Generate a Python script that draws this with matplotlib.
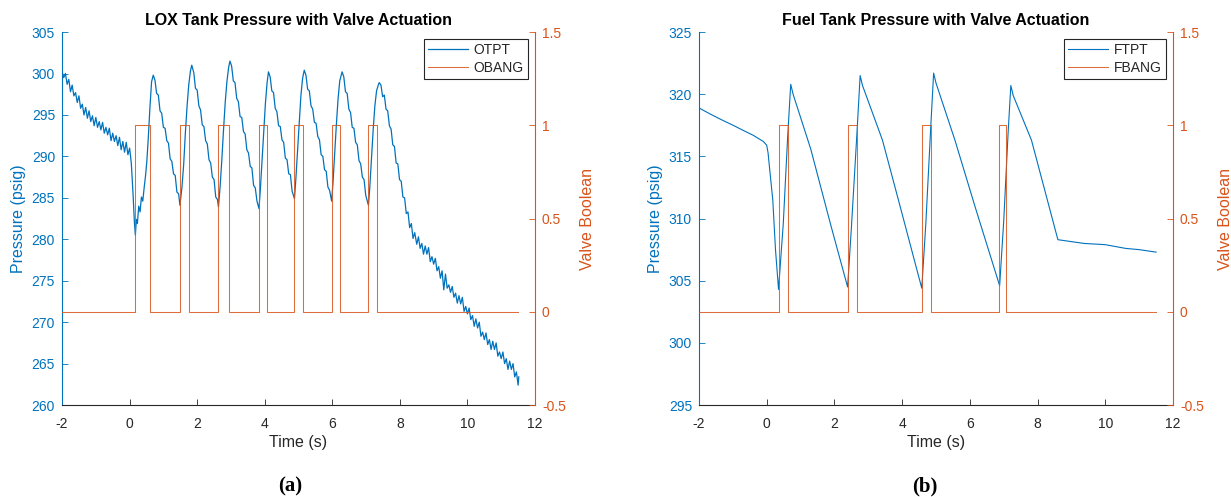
import matplotlib
matplotlib.use("Agg")
import matplotlib.pyplot as plt

plt.rcParams['font.family'] = ['Liberation Sans', 'DejaVu Sans']
plt.rcParams['axes.unicode_minus'] = False

BLUE = '#0072BD'
ORANGE = '#D95319'
DARK = '#262626'

# ---- LOX tank (panel a) ----
lox_time = [
    -2.00, -1.95, -1.90, -1.85, -1.80, -1.75, -1.70, -1.65, -1.60, -1.55,
    -1.50, -1.45, -1.40, -1.35, -1.30, -1.25, -1.20, -1.15, -1.10, -1.05,
    -1.00, -0.95, -0.90, -0.85, -0.80, -0.75, -0.70, -0.65, -0.60, -0.55,
    -0.50, -0.45, -0.40, -0.35, -0.30, -0.25, -0.20, -0.15, -0.10, -0.05, 0.00,
    0.05, 0.10, 0.14, 0.17, 0.20, 0.23, 0.27, 0.31, 0.35, 0.39, 0.43, 0.47,
    0.51, 0.55, 0.60, 0.65, 0.70,
    0.75, 0.80, 0.85, 0.90, 0.95, 1.00, 1.05, 1.10, 1.15, 1.20, 1.25, 1.30,
    1.35, 1.40, 1.45, 1.49,
    1.55, 1.60, 1.65, 1.70, 1.75, 1.80, 1.84,
    1.90, 1.95, 2.00, 2.05, 2.10, 2.15, 2.20, 2.25, 2.30, 2.35, 2.40, 2.45,
    2.50, 2.55, 2.60, 2.63,
    2.68, 2.73, 2.78, 2.83, 2.88, 2.93, 2.97,
    3.02, 3.07, 3.12, 3.17, 3.22, 3.27, 3.32, 3.37, 3.42, 3.47, 3.52, 3.57,
    3.62, 3.67, 3.72, 3.77, 3.83,
    3.87, 3.92, 3.97, 4.02, 4.07, 4.11,
    4.16, 4.21, 4.26, 4.31, 4.36, 4.41, 4.46, 4.51, 4.56, 4.61, 4.66, 4.71,
    4.76, 4.81, 4.88,
    4.92, 4.97, 5.02, 5.07, 5.12, 5.17,
    5.22, 5.27, 5.32, 5.37, 5.42, 5.47, 5.52, 5.57, 5.62, 5.67, 5.72, 5.77,
    5.82, 5.87, 5.92, 5.98,
    6.02, 6.07, 6.12, 6.17, 6.22, 6.29,
    6.34, 6.39, 6.44, 6.49, 6.54, 6.59, 6.64, 6.69, 6.74, 6.79, 6.84, 6.89,
    6.94, 6.99, 7.07,
    7.11, 7.16, 7.21, 7.26, 7.31, 7.36, 7.39,
    7.44, 7.49, 7.54, 7.59, 7.64, 7.69, 7.74, 7.79, 7.84, 7.89, 7.94, 7.99,
    8.04, 8.09, 8.14, 8.19, 8.24, 8.29, 8.34, 8.39, 8.44, 8.50,
    8.55, 8.60, 8.65, 8.70, 8.75, 8.80, 8.85, 8.90, 8.95, 9.00,
    9.05, 9.10, 9.15, 9.20, 9.25, 9.30, 9.35, 9.40, 9.45, 9.50,
    9.55, 9.60, 9.65, 9.70, 9.75, 9.80, 9.85, 9.90, 9.95, 10.00,
    10.05, 10.10, 10.15, 10.20, 10.25, 10.30, 10.35, 10.40, 10.45, 10.50,
    10.55, 10.60, 10.65, 10.70, 10.75, 10.80, 10.85, 10.90, 10.95, 11.00,
    11.05, 11.10, 11.15, 11.20, 11.25, 11.30, 11.35, 11.40, 11.45, 11.50, 11.52,
]
lox_psi = [
    300.2, 299.5, 300.0, 298.7, 299.3, 297.8, 298.6, 297.3, 297.7, 296.5,
    297.3, 295.8, 296.3, 295.0, 295.9, 294.6, 295.5, 294.2, 294.9, 293.7,
    294.7, 293.5, 294.2, 293.2, 294.1, 292.8, 293.5, 292.6, 293.4, 291.9,
    292.8, 291.8, 292.5, 291.3, 292.3, 290.8, 291.8, 290.5, 291.7, 290.2, 291.0,
    289.2, 285.6, 282.2, 280.5, 282.4, 281.9, 284.0, 283.3, 285.1, 284.6, 286.2, 287.6,
    289.4, 292.0, 295.8, 299.0, 299.8,
    299.2, 297.6, 297.4, 295.5, 295.2, 293.5, 293.4, 291.9, 291.6, 289.7, 289.4, 287.9,
    287.7, 285.7, 285.5, 284.1,
    286.3, 289.0, 292.8, 296.0, 298.6, 300.3, 301.0,
    300.1, 298.2, 298.0, 296.1, 295.6, 293.8, 293.6, 291.9, 291.5, 289.6, 289.2, 287.5,
    287.2, 285.1, 284.8, 283.9,
    286.4, 289.6, 293.2, 296.5, 299.0, 300.7, 301.5,
    300.9, 299.1, 298.9, 297.0, 296.6, 294.8, 294.7, 293.0, 292.7, 290.8, 290.4, 288.8,
    288.6, 286.5, 286.2, 284.6, 283.7,
    286.0, 289.5, 293.2, 296.4, 298.9, 300.2,
    299.6, 297.9, 297.7, 295.8, 295.4, 293.7, 293.6, 292.0, 291.7, 289.8, 289.6, 287.9,
    287.8, 285.8, 284.9,
    287.2, 290.6, 294.2, 297.3, 299.4, 300.4,
    299.8, 298.1, 297.9, 296.1, 295.7, 294.1, 294.0, 292.4, 292.0, 290.2, 290.0, 288.4,
    288.2, 286.3, 285.9, 284.6,
    286.8, 290.3, 293.8, 296.9, 299.1, 300.2,
    299.6, 297.8, 297.6, 295.7, 295.3, 293.5, 293.4, 291.7, 291.4, 289.5, 289.1, 287.5,
    287.2, 285.3, 284.1,
    286.3, 289.7, 293.2, 296.1, 297.9, 298.6, 298.9,
    298.6, 297.2, 297.4, 295.7, 295.5, 293.7, 293.3, 291.4, 291.2, 289.2, 289.1, 287.2,
    287.0, 285.1, 285.0, 283.1, 283.3, 281.4, 281.9, 280.1, 280.8, 279.4,
    280.3, 278.9, 279.5, 278.2, 279.2, 278.2, 279.0, 277.3, 277.9, 277.0,
    277.7, 276.2, 276.7, 275.3, 276.2, 273.9, 275.8, 274.1, 274.5, 273.6,
    274.3, 273.0, 273.5, 272.3, 273.2, 272.2, 273.0, 271.3, 271.9, 271.0,
    271.7, 270.3, 270.8, 269.5, 270.4, 269.3, 270.0, 268.3, 268.8, 267.9,
    268.7, 267.3, 267.9, 266.7, 267.7, 266.7, 267.5, 265.9, 266.4, 265.6,
    266.4, 265.0, 265.6, 264.3, 265.3, 264.3, 265.0, 263.4, 264.0, 262.4, 263.4,
]
obang_time = [-2.0, 0.15, 0.60, 1.49, 1.76, 2.63, 2.93, 3.83, 4.07, 4.88, 5.12,
              5.98, 6.24, 7.07, 7.32, 11.5]
obang_state = [0, 1, 0, 1, 0, 1, 0, 1, 0, 1, 0, 1, 0, 1, 0, 0]

# ---- Fuel tank (panel b) ----
fuel_time = [-2.0, -1.8, -1.59, -1.3, -0.99, -0.7, -0.4, -0.1, 0.0,
             0.04, 0.08, 0.18, 0.26, 0.35,
             0.49, 0.62, 0.71, 0.78, 1.30, 1.90, 2.39,
             2.50, 2.66, 2.76, 2.83, 3.42, 3.89, 4.58,
             4.70, 4.85, 4.93, 5.00, 5.56, 6.16, 6.88,
             7.00, 7.13, 7.21, 7.28, 7.82, 8.60,
             9.37, 10.0, 10.6, 11.0, 11.5]
fuel_psi = [318.9, 318.6, 318.3, 317.9, 317.5, 317.1, 316.7, 316.2, 315.9,
            315.3, 314.2, 311.5, 307.5, 304.3,
            309.6, 316.6, 320.8, 320.0, 315.6, 309.4, 304.5,
            309.2, 316.6, 321.5, 320.7, 316.3, 311.5, 304.4,
            309.6, 317.6, 321.7, 320.9, 316.3, 310.9, 304.6,
            309.8, 316.9, 320.7, 319.9, 316.3, 308.3,
            308.0, 307.9, 307.6, 307.5, 307.3]
fbang_time = [-2.0, 0.35, 0.62, 2.39, 2.67, 4.58, 4.86, 6.85, 7.08, 11.5]
fbang_state = [0, 1, 0, 1, 0, 1, 0, 1, 0, 0]

x_ticks = [-2, 0, 2, 4, 6, 8, 10, 12]
v_ticks = [-0.5, 0, 0.5, 1, 1.5]
v_labels = ['-0.5', '0', '0.5', '1', '1.5']


def draw_panel(rect, t, p, p_lw, vt, vs, p_ticks, title, names):
    ax = fig.add_axes(rect)
    ax2 = ax.twinx()
    h1, = ax.plot(t, p, color=BLUE, lw=p_lw)
    h2, = ax2.plot(vt, vs, color=ORANGE, lw=0.75, alpha=0.85,
                   drawstyle='steps-post')

    ax.set_xlim(-2, 12)
    ax.set_ylim(p_ticks[0], p_ticks[-1])
    ax2.set_ylim(-0.5, 1.5)
    ax.set_xticks(x_ticks)
    ax.set_xticklabels([str(v) for v in x_ticks])
    ax.set_yticks(p_ticks)
    ax.set_yticklabels([str(v) for v in p_ticks])
    ax2.set_yticks(v_ticks)
    ax2.set_yticklabels(v_labels)

    for s in ['top', 'right']:
        ax.spines[s].set_visible(False)
    for s in ['top', 'left', 'bottom']:
        ax2.spines[s].set_visible(False)
    ax.spines['left'].set_color(BLUE)
    ax.spines['bottom'].set_color(DARK)
    ax2.spines['right'].set_color(ORANGE)
    for sp in [ax.spines['left'], ax.spines['bottom'], ax2.spines['right']]:
        sp.set_linewidth(0.8)

    ax.tick_params(axis='x', direction='in', length=4, width=0.6, colors=DARK,
                   labelsize=10, pad=8.5)
    ax.tick_params(axis='y', direction='in', length=4, width=0.6, colors=BLUE,
                   labelsize=10, pad=5)
    ax2.tick_params(axis='y', direction='in', length=4, width=0.6, colors=ORANGE,
                    labelsize=10, pad=5)

    ax.set_xlabel('Time (s)', fontsize=11.5, color=DARK, labelpad=3)
    ax.set_ylabel('Pressure (psig)', fontsize=11.5, color=BLUE, labelpad=4)
    ax2.set_ylabel('Valve Boolean', fontsize=11.5, color=ORANGE, labelpad=10)
    ax.set_title(title, fontsize=11.5, fontweight='bold', color='black', pad=5)

    leg = ax2.legend([h1, h2], names, loc='upper right', fontsize=10,
                     fancybox=False, framealpha=1, edgecolor=DARK,
                     handlelength=2.9, handletextpad=0.4, borderpad=0.3,
                     labelspacing=0.25, borderaxespad=0.5)
    leg.get_frame().set_linewidth(0.8)
    for txt in leg.get_texts():
        txt.set_color(DARK)
    return ax, ax2


fig = plt.figure(figsize=(12.31, 4.97), dpi=100)

draw_panel([0.0504, 0.185, 0.3842, 0.7505], lox_time, lox_psi, 0.9,
           obang_time, obang_state, [260, 265, 270, 275, 280, 285, 290, 295, 300, 305],
           'LOX Tank Pressure with Valve Actuation', ['OTPT', 'OBANG'])
draw_panel([0.5678, 0.185, 0.3851, 0.7505], fuel_time, fuel_psi, 0.8,
           fbang_time, fbang_state, [295, 300, 305, 310, 315, 320, 325],
           'Fuel Tank Pressure with Valve Actuation', ['FTPT', 'FBANG'])

fig.text(0.2356, 0.021, '(a)', fontsize=15, fontweight='bold',
         family='Liberation Serif', ha='center', va='center')
fig.text(0.7514, 0.021, '(b)', fontsize=15, fontweight='bold',
         family='Liberation Serif', ha='center', va='center')

fig.savefig('out.png', dpi=100)
